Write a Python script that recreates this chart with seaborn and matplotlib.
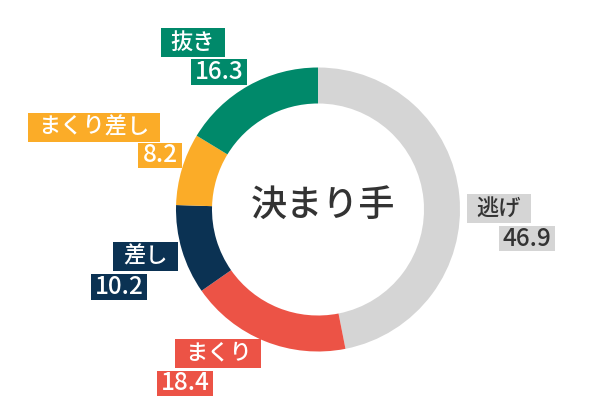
import matplotlib
matplotlib.use("Agg")
import matplotlib.pyplot as plt
from matplotlib.patches import Rectangle
import seaborn as sns

# ---- data ----
categories = ["逃げ", "まくり", "差し", "まくり差し", "抜き"]
values = [46.9, 18.4, 10.2, 8.2, 16.3]
value_labels = ["46.9", "18.4", "10.2", "8.2", "16.3"]
center_title = "決まり手"

# ---- styles ----
colors = ["#D5D5D5", "#EC5346", "#0B3253", "#FBAC28", "#00896A"]
text_colors = ["#333333", "white", "white", "white", "white"]

# ---- layout (pixel centers from top-left of 600x420 canvas) ----
name_pos = [(499, 208.5), (218, 353), (145.5, 256), (94, 127), (193, 42)]
val_pos = [(527, 238.5), (185, 383.5), (119, 287), (160, 155.5), (219, 72)]

W, H = 600, 420
CX, CY, R = 318, 209.5, 142.0

sns.set_theme(style="white")
plt.rcParams["font.family"] = ["Noto Sans CJK JP", "DejaVu Sans"]

fig = plt.figure(figsize=(6, 4.2), dpi=100)
ax = fig.add_axes([0, 0, 1, 1])
ax.pie(values, colors=colors, startangle=90, counterclock=False, radius=1.0,
       wedgeprops=dict(width=36 / R, edgecolor="none", linewidth=0))
ax.set_xlim(-CX / R, (W - CX) / R)
ax.set_ylim(-(H - CY) / R, CY / R)
ax.set_aspect("auto")
ax.axis("off")


def to_data(px, py):
    return (px - CX) / R, (CY - py) / R


ax.text(*to_data(323, 206), center_title, ha="center", va="center",
        fontsize=26, color="#333333", fontweight="medium")

texts = []
for i, cat in enumerate(categories):
    t1 = ax.text(*to_data(*name_pos[i]), cat, ha="center", va="center",
                 fontsize=16, color=text_colors[i], zorder=5, fontweight="medium")
    t2 = ax.text(*to_data(*val_pos[i]), value_labels[i], ha="center", va="center",
                 fontsize=17.5, color=text_colors[i], zorder=5, fontweight="medium")
    texts.append((t1, t2, i))

fig.canvas.draw()
renderer = fig.canvas.get_renderer()
for t1, t2, i in texts:
    for t, pos, padx, hh in ((t1, name_pos[i], 10, 29), (t2, val_pos[i], 4, 25.5)):
        ext = t.get_window_extent(renderer)
        w = ext.width + 2 * padx
        x0 = pos[0] - w / 2
        y0 = H - pos[1] - hh / 2
        ax.add_patch(Rectangle((x0 / W, y0 / H), w / W, hh / H,
                               transform=fig.transFigure, facecolor=colors[i],
                               edgecolor="none", zorder=4, clip_on=False))

fig.savefig("out.png", dpi=100)
